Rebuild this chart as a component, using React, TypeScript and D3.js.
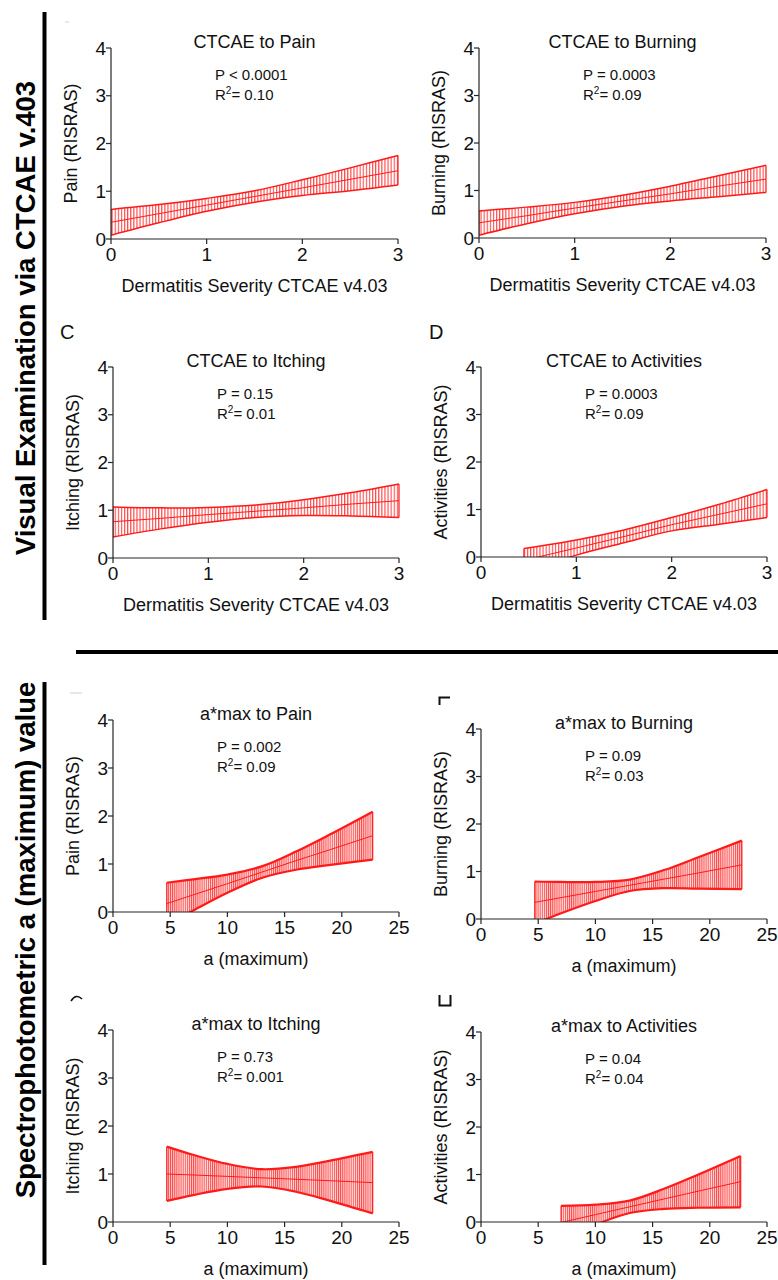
import React from 'react';
import * as d3 from 'd3';

// ---------- text content ----------
const titles = [
  'CTCAE to Pain', 'CTCAE to Burning', 'CTCAE to Itching', 'CTCAE to Activities',
  'a*max to Pain', 'a*max to Burning', 'a*max to Itching', 'a*max to Activities',
];
const yAxisLabels = [
  'Pain (RISRAS)', 'Burning (RISRAS)', 'Itching (RISRAS)', 'Activities (RISRAS)',
  'Pain (RISRAS)', 'Burning (RISRAS)', 'Itching (RISRAS)', 'Activities (RISRAS)',
];
const pValues = ['P < 0.0001', 'P = 0.0003', 'P = 0.15', 'P = 0.0003', 'P = 0.002', 'P = 0.09', 'P = 0.73', 'P = 0.04'];
const r2Values = ['0.10', '0.09', '0.01', '0.09', '0.09', '0.03', '0.001', '0.04'];
const ctcaeXLabel = 'Dermatitis Severity CTCAE v4.03';
const aMaxXLabel = 'a (maximum)';
const ctcaeTicks = [0, 1, 2, 3];
const aMaxTicks = [0, 5, 10, 15, 20, 25];
const yTicks = [0, 1, 2, 3, 4];
const sectionLabels = ['Visual Examination via CTCAE v.403', 'Spectrophotometric a (maximum) value'];

// ---------- regression fits with 95% CI ----------
const painCtcaeX = [0, 0.5, 1, 1.5, 2, 2.5, 3];
const painCtcaeFit = [0.35, 0.53, 0.71, 0.89, 1.07, 1.25, 1.43];
const painCtcaeUpper = [0.62, 0.72, 0.85, 1.01, 1.24, 1.49, 1.75];
const painCtcaeLower = [0.08, 0.34, 0.58, 0.77, 0.91, 1.01, 1.13];

const burnCtcaeX = [0, 0.5, 1, 1.5, 2, 2.5, 3];
const burnCtcaeFit = [0.32, 0.47, 0.63, 0.78, 0.93, 1.09, 1.24];
const burnCtcaeUpper = [0.57, 0.65, 0.75, 0.9, 1.09, 1.31, 1.53];
const burnCtcaeLower = [0.06, 0.3, 0.51, 0.67, 0.78, 0.87, 0.96];

const itchCtcaeX = [0, 0.5, 1, 1.5, 2, 2.5, 3];
const itchCtcaeFit = [0.76, 0.83, 0.91, 0.98, 1.05, 1.13, 1.2];
const itchCtcaeUpper = [1.07, 1.05, 1.06, 1.11, 1.22, 1.37, 1.55];
const itchCtcaeLower = [0.44, 0.61, 0.75, 0.85, 0.89, 0.88, 0.85];

const actCtcaeX = [0.45, 1, 1.5, 2, 2.5, 3];
const actCtcaeFit = [-0.07, 0.19, 0.43, 0.68, 0.9, 1.12];
const actCtcaeUpper = [0.18, 0.36, 0.57, 0.83, 1.11, 1.42];
const actCtcaeLower = [-0.32, 0.04, 0.3, 0.55, 0.69, 0.83];

const painAmaxX = [4.7, 7, 10, 13, 16, 19, 22.7];
const painAmaxFit = [0.175, 0.356, 0.59, 0.83, 1.07, 1.3, 1.59];
const painAmaxUpper = [0.61, 0.68, 0.78, 0.95, 1.26, 1.62, 2.09];
const painAmaxLower = [-0.26, 0.03, 0.4, 0.71, 0.88, 0.98, 1.09];

const burnAmaxX = [4.7, 7, 10, 13, 16, 19, 22.8];
const burnAmaxFit = [0.35, 0.45, 0.58, 0.71, 0.84, 0.97, 1.14];
const burnAmaxUpper = [0.79, 0.78, 0.78, 0.83, 1.03, 1.3, 1.65];
const burnAmaxLower = [-0.1, 0.12, 0.38, 0.59, 0.65, 0.64, 0.63];

const itchAmaxX = [4.7, 7, 10, 13, 16, 19, 22.7];
const itchAmaxFit = [1.0, 0.98, 0.95, 0.92, 0.89, 0.86, 0.82];
const itchAmaxUpper = [1.57, 1.4, 1.21, 1.1, 1.15, 1.28, 1.46];
const itchAmaxLower = [0.44, 0.56, 0.69, 0.74, 0.63, 0.44, 0.18];

const actAmaxX = [7, 10, 13, 16, 19, 22.7];
const actAmaxFit = [-0.01, 0.155, 0.32, 0.485, 0.65, 0.85];
const actAmaxUpper = [0.34, 0.365, 0.45, 0.7, 1.0, 1.39];
const actAmaxLower = [-0.36, -0.055, 0.19, 0.275, 0.3, 0.31];

const bands = [
  { x: painCtcaeX, fit: painCtcaeFit, hi: painCtcaeUpper, lo: painCtcaeLower },
  { x: burnCtcaeX, fit: burnCtcaeFit, hi: burnCtcaeUpper, lo: burnCtcaeLower },
  { x: itchCtcaeX, fit: itchCtcaeFit, hi: itchCtcaeUpper, lo: itchCtcaeLower },
  { x: actCtcaeX, fit: actCtcaeFit, hi: actCtcaeUpper, lo: actCtcaeLower },
  { x: painAmaxX, fit: painAmaxFit, hi: painAmaxUpper, lo: painAmaxLower },
  { x: burnAmaxX, fit: burnAmaxFit, hi: burnAmaxUpper, lo: burnAmaxLower },
  { x: itchAmaxX, fit: itchAmaxFit, hi: itchAmaxUpper, lo: itchAmaxLower },
  { x: actAmaxX, fit: actAmaxFit, hi: actAmaxUpper, lo: actAmaxLower },
];

// ---------- layout ----------
const layout = [
  { ax: 111, xe: 398, y0: 239, y4: 48 },
  { ax: 479, xe: 766, y0: 238, y4: 48 },
  { ax: 113, xe: 399, y0: 558, y4: 367 },
  { ax: 481, xe: 767, y0: 557, y4: 367 },
  { ax: 113, xe: 399, y0: 912, y4: 720 },
  { ax: 481, xe: 767, y0: 919, y4: 729 },
  { ax: 113, xe: 399, y0: 1222, y4: 1030 },
  { ax: 481, xe: 767, y0: 1222, y4: 1032 },
];

const FONT = "'Liberation Sans', Arial, Helvetica, sans-serif";
const AXIS = '#262626';
const RED = '#ff1a1a';

function Panel({ i }: { i: number }) {
  const L = layout[i];
  const isA = i >= 4;
  const ticks = isA ? aMaxTicks : ctcaeTicks;
  const x = d3.scaleLinear().domain([0, ticks[ticks.length - 1]]).range([L.ax, L.xe]);
  const y = d3.scaleLinear().domain([0, 4]).range([L.y0, L.y4]);
  const b = bands[i];
  const pts = b.x.map((v, k) => ({ x: v, fit: b.fit[k], hi: b.hi[k], lo: b.lo[k] }));
  const curve = d3.curveCatmullRom.alpha(0.5);
  const area = d3.area<any>().x(d => x(d.x)).y0(d => y(d.lo)).y1(d => y(d.hi)).curve(curve);
  const upper = d3.line<any>().x(d => x(d.x)).y(d => y(d.hi)).curve(curve);
  const lower = d3.line<any>().x(d => x(d.x)).y(d => y(d.lo)).curve(curve);
  const fit = d3.line<any>().x(d => x(d.x)).y(d => y(d.fit));
  const clipId = `clip${i}`;
  const hatch = isA ? 'hatchA' : 'hatchC';
  const first = pts[0];
  const last = pts[pts.length - 1];
  const edgeW = isA ? 2.2 : 1.5;
  const cx = (L.ax + L.xe) / 2;
  return (
    <g>
      <defs>
        <clipPath id={clipId}>
          <rect x={L.ax} y={L.y4 - 2} width={L.xe - L.ax + 3} height={L.y0 - L.y4 + 2} />
        </clipPath>
      </defs>
      <g clipPath={`url(#${clipId})`}>
        {isA && <path d={area(pts) || ''} fill="#ffdcdc" />}
        <path d={area(pts) || ''} fill={`url(#${hatch})`} />
        <line x1={x(first.x)} x2={x(first.x)} y1={y(first.lo)} y2={y(first.hi)} stroke={RED} strokeWidth={1.2} />
        <line x1={x(last.x)} x2={x(last.x)} y1={y(last.lo)} y2={y(last.hi)} stroke={RED} strokeWidth={1.2} />
        <path d={fit(pts) || ''} fill="none" stroke={RED} strokeWidth={1} />
        <path d={upper(pts) || ''} fill="none" stroke={RED} strokeWidth={edgeW} />
        <path d={lower(pts) || ''} fill="none" stroke={RED} strokeWidth={edgeW} />
      </g>
      {/* axes */}
      <line x1={L.ax} x2={L.ax} y1={y(4)} y2={y(0)} stroke={AXIS} strokeWidth={1.2} />
      <line x1={L.ax} x2={x(ticks[ticks.length - 1])} y1={y(0)} y2={y(0)} stroke={AXIS} strokeWidth={1.2} />
      {yTicks.map(t => (
        <g key={'y' + t}>
          <line x1={L.ax - 5} x2={L.ax} y1={y(t)} y2={y(t)} stroke={AXIS} strokeWidth={1.2} />
          <text x={L.ax - 5} y={y(t) + 6.5} textAnchor="end" fontSize={19} fontFamily={FONT} fill="#111">{t}</text>
        </g>
      ))}
      {ticks.map(t => (
        <g key={'x' + t}>
          <line x1={x(t)} x2={x(t)} y1={y(0)} y2={y(0) + 5} stroke={AXIS} strokeWidth={1.2} />
          <text x={x(t)} y={y(0) + 22} textAnchor="middle" fontSize={19} fontFamily={FONT} fill="#111">{t}</text>
        </g>
      ))}
      <text x={cx} y={L.y4} textAnchor="middle" fontSize={18} fontFamily={FONT} fill="#111">{titles[i]}</text>
      <text x={L.ax + 104} y={L.y4 + 32} fontSize={15} fontFamily={FONT} fill="#111">{pValues[i]}</text>
      <text x={L.ax + 104} y={L.y4 + 52} fontSize={15} fontFamily={FONT} fill="#111">
        R<tspan fontSize={10} dy={-6}>2</tspan><tspan dy={6}>= {r2Values[i]}</tspan>
      </text>
      <text x={cx} y={L.y0 + 53} textAnchor="middle" fontSize={18} fontFamily={FONT} fill="#111">
        {isA ? aMaxXLabel : ctcaeXLabel}
      </text>
      <text transform={`translate(${L.ax - 34},${(L.y0 + L.y4) / 2}) rotate(-90)`} textAnchor="middle"
        fontSize={18} fontFamily={FONT} fill="#111">{yAxisLabels[i]}</text>
    </g>
  );
}

export default function App() {
  return (
    <svg width={778} height={1280} viewBox="0 0 778 1280"
      style={{ position: 'absolute', left: 0, top: 0, background: '#fff' }}>
      <defs>
        <pattern id="hatchC" patternUnits="userSpaceOnUse" width={3.1} height={6}>
          <line x1={0.6} x2={0.6} y1={0} y2={6} stroke="#ff3030" strokeWidth={1} />
        </pattern>
        <pattern id="hatchA" patternUnits="userSpaceOnUse" width={2.1} height={6}>
          <line x1={0.5} x2={0.5} y1={0} y2={6} stroke="#ff3a3a" strokeWidth={0.9} />
        </pattern>
      </defs>
      <rect x={0} y={0} width={778} height={1280} fill="#fff" />
      {/* section frames */}
      <line x1={44.5} x2={44.5} y1={12} y2={620} stroke="#000" strokeWidth={4} />
      <line x1={76} x2={778} y1={652} y2={652} stroke="#000" strokeWidth={4} />
      <line x1={44.5} x2={44.5} y1={682} y2={1265} stroke="#000" strokeWidth={4} />
      <text transform="translate(35,318) rotate(-90)" textAnchor="middle" fontSize={27.5} fontWeight="bold"
        fontFamily={FONT} fill="#000">{sectionLabels[0]}</text>
      <text transform="translate(35,940) rotate(-90)" textAnchor="middle" fontSize={27.5} fontWeight="bold"
        fontFamily={FONT} fill="#000">{sectionLabels[1]}</text>
      {/* panel letters and cropped remnants */}
      <text x={60} y={339} fontSize={20} fontFamily={FONT} fill="#111">C</text>
      <text x={429} y={339} fontSize={20} fontFamily={FONT} fill="#111">D</text>
      <line x1={65} x2={69} y1={22} y2={22} stroke="#d0d0d0" strokeWidth={1} />
      <line x1={70} x2={82} y1={693} y2={693} stroke="#d0d0d0" strokeWidth={1} />
      <path d="M439.5 705 V697.5 H450" fill="none" stroke="#111" strokeWidth={2} />
      <path d="M439.5 995 V1005.5 H450.5 V995" fill="none" stroke="#111" strokeWidth={2} />
      <path d="M71 1001 Q 76 993 82 999" fill="none" stroke="#111" strokeWidth={1.6} />
      {layout.map((_, i) => <Panel key={i} i={i} />)}
    </svg>
  );
}
